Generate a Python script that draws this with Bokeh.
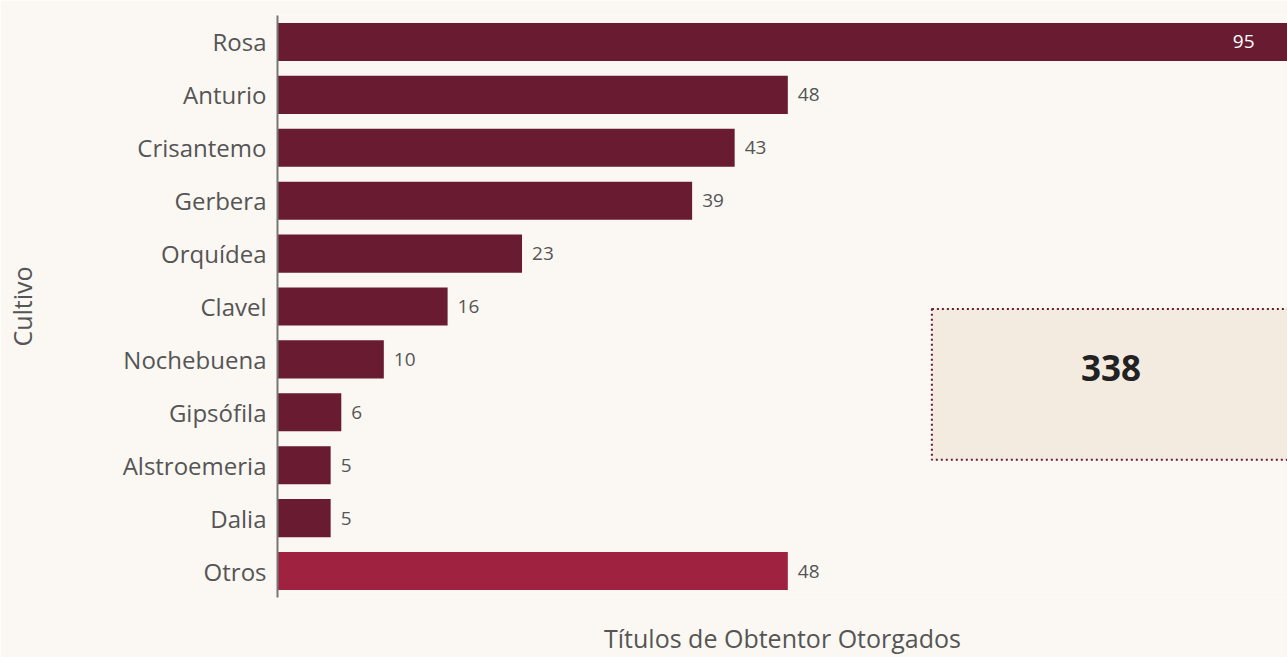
from bokeh.plotting import figure
from bokeh.models import ColumnDataSource, FactorRange, Range1d, FixedTicker
from bokeh.core.properties import value
from bokeh.embed import file_html
from bokeh.resources import INLINE

cultivos = ["Rosa", "Anturio", "Crisantemo", "Gerbera", "Orquídea", "Clavel",
            "Nochebuena", "Gipsófila", "Alstroemeria", "Dalia", "Otros"]
titulos = [95, 48, 43, 39, 23, 16, 10, 6, 5, 5, 48]
colores = ["#691B32"] * 10 + ["#9F2241"]
total = sum(titulos)

FONT = "Open Sans"
TXT = "#555555"

factors = list(reversed(cultivos))
p = figure(width=1287, height=657, y_range=FactorRange(factors=factors, range_padding=0),
           x_range=Range1d(0, 95), output_backend="svg", toolbar_location=None,
           min_border_left=277, min_border_right=0, min_border_top=15, min_border_bottom=59)
p.background_fill_color = "#FBF8F3"
p.border_fill_color = "#FBF8F3"
p.outline_line_color = None
p.grid.visible = False

src = ColumnDataSource(dict(c=cultivos, v=titulos, col=colores))
p.hbar(y="c", right="v", left=0, height=0.72, fill_color="col", line_color=None, source=src)

inside = ColumnDataSource(dict(c=[cultivos[0]], v=[titulos[0]], lab=[str(titulos[0])]))
outside = ColumnDataSource(dict(c=cultivos[1:], v=titulos[1:], lab=[str(v) for v in titulos[1:]]))
p.text(x="v", y="c", text="lab", source=outside, x_offset=10, y_offset=0, text_baseline="middle",
       text_align="left", text_font=value(FONT), text_font_size="19px", text_color=TXT)
p.text(x="v", y="c", text="lab", source=inside, x_offset=-33, y_offset=0, text_baseline="middle",
       text_align="right", text_font=value(FONT), text_font_size="19px", text_color="white")

# total box
p.quad(left=[61.55], right=[110], bottom=[2.604], top=[5.453], fill_color="#F3EBE0",
       line_color="#691B32", line_width=2, line_dash="2 3")
p.text(x=[78.4], y=[4.34], text=[str(total)], text_align="center", text_baseline="middle",
       text_font=value(FONT), text_font_size="35px", text_font_style="bold", text_color="#222222")

p.xaxis.ticker = FixedTicker(ticks=[])
p.xaxis.axis_line_color = None
p.xaxis.major_tick_line_color = None
p.xaxis.minor_tick_line_color = None
p.xaxis.axis_label = "Títulos de Obtentor Otorgados"
p.xaxis.axis_label_text_font = FONT
p.xaxis.axis_label_text_font_size = "25px"
p.xaxis.axis_label_text_font_style = "normal"
p.xaxis.axis_label_text_color = TXT
p.xaxis.axis_label_standoff = 23

p.yaxis.axis_line_color = "#777777"
p.yaxis.axis_line_width = 2
p.yaxis.major_tick_line_color = None
p.yaxis.minor_tick_line_color = None
p.yaxis.major_label_text_font = FONT
p.yaxis.major_label_text_font_size = "24px"
p.yaxis.major_label_text_color = TXT
p.yaxis.major_label_standoff = 5
p.yaxis.axis_label = "Cultivo"
p.yaxis.axis_label_text_font = FONT
p.yaxis.axis_label_text_font_size = "25px"
p.yaxis.axis_label_text_font_style = "normal"
p.yaxis.axis_label_text_color = TXT
p.yaxis.axis_label_standoff = 81

open("out.html", "w").write(file_html(p, INLINE))
